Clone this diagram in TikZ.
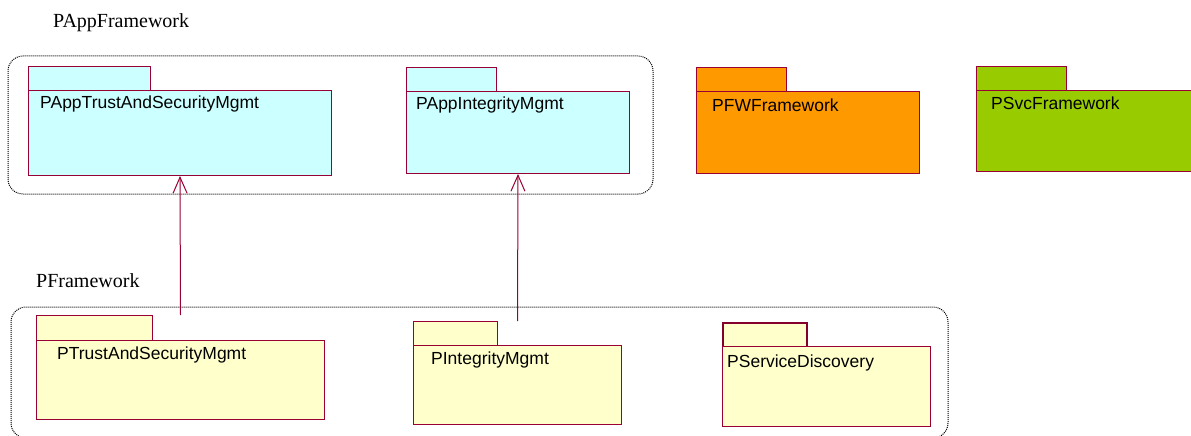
\documentclass[tikz,border=0pt]{standalone}
\usepackage{fontspec}
\setmainfont{Liberation Serif}
\setsansfont{Liberation Sans}
\usepackage{xcolor}
\usetikzlibrary{positioning,calc,arrows.meta}
\definecolor{pkgline}{HTML}{990033}
\definecolor{appfill}{HTML}{CCFFFF}
\definecolor{basefill}{HTML}{FFFFCC}
\definecolor{fwfill}{HTML}{FF9900}
\definecolor{svcfill}{HTML}{99CC00}

\begin{document}
\begin{tikzpicture}[x=1pt,y=-1pt,
    pkg/.style={draw=pkgline,line width=1pt,inner sep=0pt,anchor=north west},
    pkgname/.style={font=\sffamily\fontsize{17.5}{20}\selectfont,inner sep=0pt,anchor=base west},
    grp/.style={draw,line width=1pt,dash pattern=on 1pt off 1pt,rounded corners=15pt},
    grpname/.style={font=\fontsize{20}{24}\selectfont,inner sep=0pt,anchor=base west},
    dep/.style={draw=pkgline,line width=1pt,-{Straight Barb[length=16pt,width=14pt]}}]
    \useasboundingbox (0,0) rectangle (1191,436);

    % PAppFramework
    \node[grpname] (appTitle) at (53,28) {PAppFramework};
    \draw[grp] (8,56) rectangle (653,194);

    \node[pkg,fill=appfill,minimum width=122pt,minimum height=24pt] (appTrustTab) at (28,66) {};
    \node[pkg,fill=appfill,minimum width=303pt,minimum height=85pt] (appTrust) at (28,90) {};
    \node[pkgname] (appTrustName) at (40,108) {PAppTrustAndSecurityMgmt};

    \node[pkg,fill=appfill,minimum width=90pt,minimum height=24pt] (appIntegTab) at (406,67) {};
    \node[pkg,fill=appfill,minimum width=223pt,minimum height=82pt] (appInteg) at (406,91) {};
    \node[pkgname] (appIntegName) at (416,110) {PAppIntegrityMgmt};

    % PFWFramework, PSvcFramework
    \node[pkg,fill=fwfill,minimum width=90pt,minimum height=24pt] (fwTab) at (696,67) {};
    \node[pkg,fill=fwfill,minimum width=223pt,minimum height=82pt] (fw) at (696,91) {};
    \node[pkgname] (fwName) at (712,111) {PFWFramework};

    \node[pkg,fill=svcfill,minimum width=90pt,minimum height=24pt] (svcTab) at (976,66) {};
    \node[pkg,fill=svcfill,minimum width=230pt,minimum height=81pt] (svc) at (976,90) {};
    \node[pkgname] (svcName) at (991,110) {PSvcFramework};

    % PFramework
    \node[grpname] (baseTitle) at (36,287) {PFramework};
    \draw[grp] (11,307) rectangle (948,438);

    \node[pkg,fill=basefill,minimum width=116pt,minimum height=25pt] (trustTab) at (36,315) {};
    \node[pkg,fill=basefill,minimum width=288pt,minimum height=79pt] (trust) at (36,340) {};
    \node[pkgname] (trustName) at (57,359) {PTrustAndSecurityMgmt};

    \node[pkg,fill=basefill,minimum width=84pt,minimum height=24pt] (integTab) at (413,321) {};
    \node[pkg,fill=basefill,minimum width=208pt,minimum height=79pt] (integ) at (413,345) {};
    \node[pkgname] (integName) at (431,364) {PIntegrityMgmt};

    \node[pkg,fill=basefill,draw=pkgline!85!black,line width=2pt,minimum width=84pt,minimum height=24pt] (discTab) at (722,322) {};
    \node[pkg,fill=basefill,minimum width=208pt,minimum height=80pt] (disc) at (722,346) {};
    \node[pkgname] (discName) at (727,367) {PServiceDiscovery};

    % dependencies
    \draw[dep] (trust.north |- trustTab.north) -- (appTrust.south);
    \draw[dep] (integ.north |- integTab.north) -- (appInteg.south);
\end{tikzpicture}
\end{document}
